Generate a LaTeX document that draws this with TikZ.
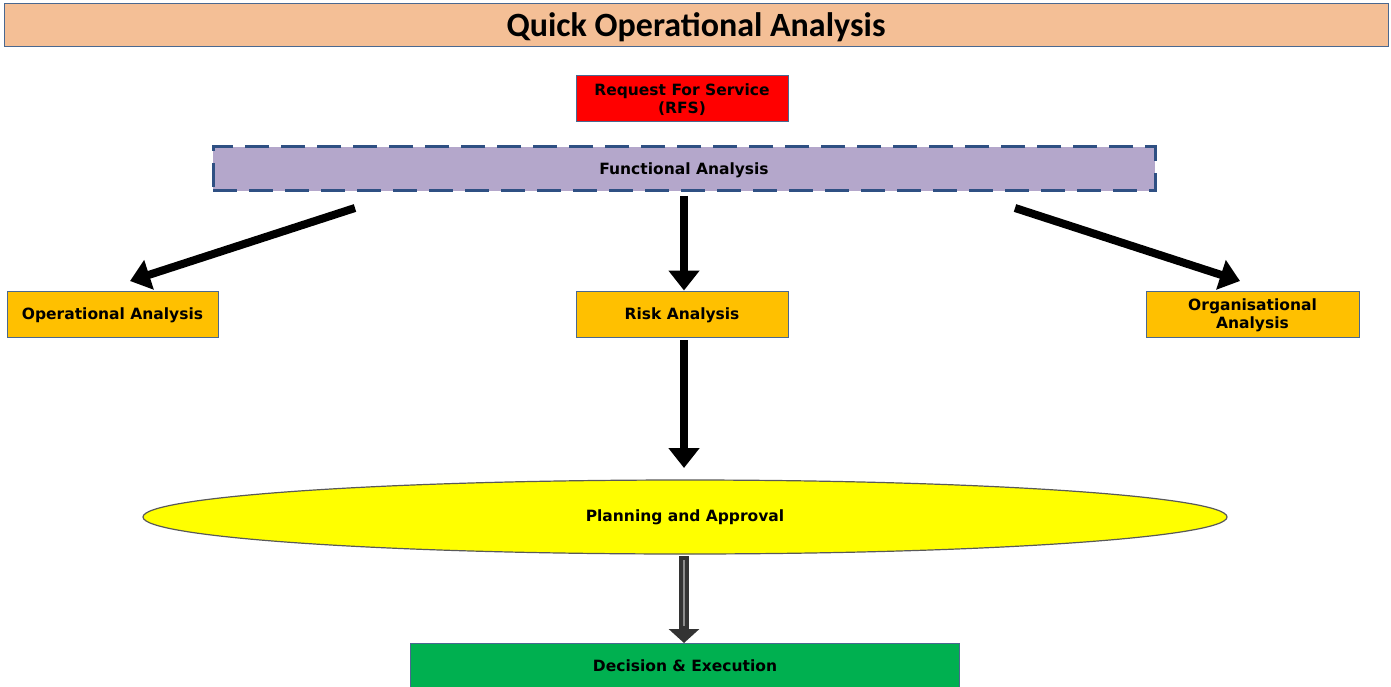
\documentclass[tikz,border=0pt]{standalone}
\usepackage{fontspec}
\setmainfont{DejaVu Sans}
\newfontfamily\titlefont{Carlito}
\usetikzlibrary{arrows.meta,shapes.geometric}
\definecolor{titlefill}{HTML}{F4BF96}
\definecolor{edgeblue}{HTML}{4A6890}
\definecolor{dashblue}{HTML}{2F5083}
\definecolor{lilac}{HTML}{B4A7CB}
\definecolor{amber}{HTML}{FFC000}
\definecolor{leaf}{HTML}{00B050}
\definecolor{lemon}{HTML}{FFFF00}
\tikzset{
  labelfont/.style={font=\fontsize{15.5}{18}\selectfont\bfseries},
  box/.style={draw=edgeblue, line width=1pt, minimum height=46pt, align=center,
    labelfont, inner sep=0pt, text depth=1pt},
  fatarrow/.style={draw=black, line width=8pt,
    -{Triangle[length=20pt, width=30pt]}},
}
\begin{document}
\begin{tikzpicture}[x=1pt, y=-1pt]
  \useasboundingbox (0,0) rectangle (1391,687);

  % heading bar
  \node[draw=edgeblue, line width=1pt, fill=titlefill, minimum width=1384pt,
        minimum height=43pt, inner sep=0pt, text depth=2pt,
        font=\titlefont\fontsize{34}{36}\selectfont\bfseries]
        (title) at (696,25.5) {Quick Operational Analysis};

  % request
  \node[box, fill=red, minimum width=212pt] (rfs) at (682,99)
        {Request For Service\\(RFS)};

  % functional analysis
  \node[box, draw=dashblue, line width=3pt, dash pattern=on 24pt off 12pt,
        fill=lilac, minimum width=942pt, minimum height=44pt] (func) at (684,169)
        {Functional Analysis};

  % three analyses
  \node[box, fill=amber, minimum width=211pt] (oper) at (112.5,314) {Operational Analysis};
  \node[box, fill=amber, minimum width=212pt] (risk) at (682,314) {Risk Analysis};
  \node[box, fill=amber, minimum width=213pt] (orga) at (1252.5,314) {Organisational\\Analysis};

  % planning
  \node[ellipse, draw=black!65, line width=1.2pt, fill=lemon,
        minimum width=1084pt, minimum height=74pt, inner sep=0pt,
        labelfont] (plan) at (685,517) {Planning and Approval};

  % decision (bottom edge runs off the page)
  \node[box, draw=none, fill=leaf, minimum width=548pt, minimum height=46pt,
        anchor=north] (dec) at (685,643) {};
  \node[labelfont] (dectext) at (685,666) {Decision \& Execution};
  \draw[edgeblue, line width=1pt] (dec.south west) -- (dec.north west)
        -- (dec.north east) -- (dec.south east);

  % connectors
  \coordinate (fl) at (355,208);
  \coordinate (fr) at (1015,208);
  \coordinate (fm) at (684,196);
  \coordinate (ol) at (130,281);
  \coordinate (or) at (1240,281);
  \draw[fatarrow] (fl) -- (ol);
  \draw[fatarrow] (fr) -- (or);
  \draw[fatarrow] (fm) -- (risk.north -| fm);
  \coordinate (rb) at (684,340);
  \coordinate (pt) at (684,468);
  \draw[fatarrow] (rb) -- (pt);

  % planning to decision
  \coordinate (pb) at (684,556);
  \draw[draw=black!80, line width=10pt,
        -{Triangle[length=14pt, width=30pt]}] (pb) -- (dec.north -| pb);
  \draw[black!45, line width=2.5pt] (684,560) -- (684,626);
\end{tikzpicture}
\end{document}
